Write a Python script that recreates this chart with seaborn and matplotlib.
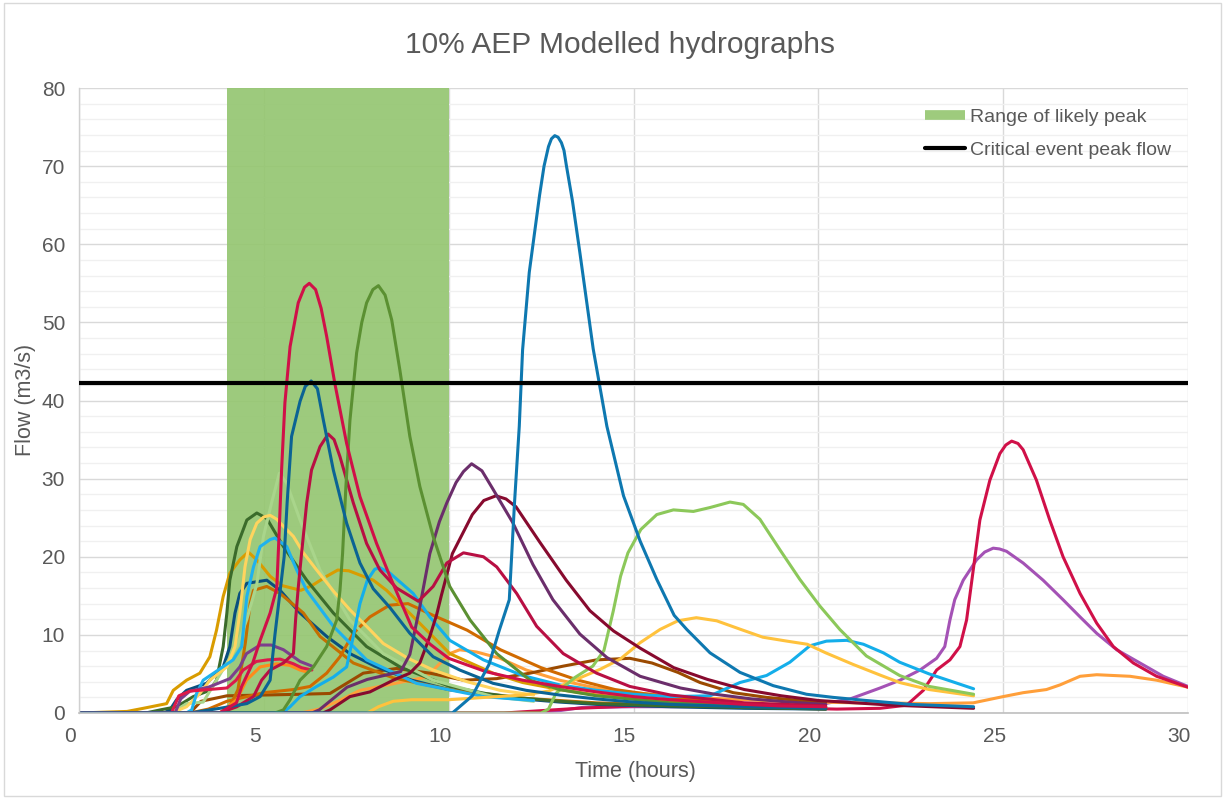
import numpy as np
import pandas as pd
import matplotlib
matplotlib.use("Agg")
import matplotlib.pyplot as plt
import seaborn as sns
from matplotlib.lines import Line2D
from matplotlib.ticker import MultipleLocator
from matplotlib.transforms import ScaledTranslation
from matplotlib.patches import Rectangle

# ---------------- data ----------------
title = "10% AEP Modelled hydrographs"
x_label = "Time (hours)"
y_label = "Flow (m3/s)"
legend_labels = ["Range of likely peak", "Critical event peak flow"]
likely_peak_range = [4.0, 10.0]
critical_peak_flow = 42.3

x_ticks = [0, 5, 10, 15, 20, 25, 30]
y_ticks = [0, 10, 20, 30, 40, 50, 60, 70, 80]

violet_t = [0, 12.3, 13.0, 13.6, 15, 17, 19, 19.95, 20.86, 21.67, 22.21, 22.75, 23.2, 23.42, 23.56, 23.69, 23.92, 24.28, 24.5, 24.73, 24.9, 25.09, 25.54, 26.08, 26.62, 27.08, 27.53, 28.07, 28.7, 29.33, 30]
violet_q = [0, 0, 0.3, 0.7, 0.8, 0.8, 0.8, 1.0, 1.8, 3.2, 4.2, 5.5, 7.0, 8.5, 11.9, 14.5, 17.0, 19.6, 20.6, 21.1, 21.0, 20.7, 19.2, 17.0, 14.5, 12.3, 10.2, 8.1, 6.4, 4.7, 3.4]

orange_long_t = [0, 6.0, 6.5, 7.0, 7.6, 8.14, 8.77, 9.4, 9.67, 10.03, 10.3, 10.76, 11.39, 12.1, 13, 14, 15, 16, 17, 18, 19, 20, 21, 21.67, 23.02, 24.19, 25.0, 25.54, 26.17, 26.54, 27.08, 27.53, 28.43, 29.15, 30]
orange_long_q = [0, 0, 0.5, 1.5, 2.9, 3.4, 4.0, 4.6, 5.9, 7.6, 8.1, 7.8, 7.0, 5.5, 4.2, 3.2, 2.6, 2.2, 1.9, 1.7, 1.5, 1.4, 1.3, 1.3, 1.2, 1.3, 2.1, 2.6, 3.0, 3.6, 4.7, 4.9, 4.7, 4.2, 3.3]

crimson25_t = [0, 11.5, 12.5, 13.5, 15, 16.5, 18, 19.5, 20.5, 21.67, 22.39, 22.84, 23.2, 23.56, 23.83, 24.01, 24.19, 24.37, 24.64, 24.91, 25.07, 25.23, 25.4, 25.54, 25.9, 26.26, 26.62, 27.08, 27.53, 27.98, 28.52, 29.15, 30]
crimson25_q = [0, 0, 0.3, 0.6, 0.9, 1.0, 0.8, 0.6, 0.5, 0.6, 1.0, 2.9, 5.5, 6.8, 8.5, 11.9, 18.3, 24.7, 29.8, 33.2, 34.3, 34.8, 34.5, 33.7, 29.8, 24.7, 20.0, 15.3, 11.5, 8.5, 6.4, 4.7, 3.3]

brown_t = [0, 3.0, 3.3, 4.0, 5.0, 6.0, 6.79, 7.69, 8.59, 9.49, 10.4, 11.3, 12.2, 13.1, 14.0, 14.9, 15.5, 16.2, 16.8, 17.7, 18.6, 19.5, 20.2]
brown_q = [0, 0, 1.5, 2.2, 2.3, 2.4, 2.5, 5.1, 5.7, 5.1, 4.2, 4.4, 5.1, 6.0, 6.8, 7.0, 6.4, 5.2, 3.9, 2.6, 2.0, 1.6, 1.4]

navy_t = [0, 2.3, 2.46, 2.64, 2.91, 3.45, 3.9, 4.08, 4.22, 4.35, 4.54, 4.81, 5.08, 5.44, 5.98, 6.7, 7.33, 8, 9, 10, 11, 12, 13, 14, 16, 18, 20.2]
navy_q = [0, 0, 0.4, 1.7, 2.9, 3.8, 5.9, 8.5, 12.8, 15.3, 16.6, 16.8, 17.0, 15.7, 12.8, 9.8, 7.6, 6.0, 4.2, 3.0, 2.3, 1.8, 1.4, 1.1, 0.8, 0.6, 0.5]

dkorange_a_t = [0, 4.0, 4.3, 4.5, 4.63, 4.72, 5.08, 5.44, 6.07, 6.52, 7.42, 8.5, 10, 12, 14, 16, 18, 20.2]
dkorange_a_q = [0, 0, 3.0, 9.0, 14.0, 15.7, 16.2, 15.3, 12.8, 9.8, 6.4, 4.5, 3.0, 1.9, 1.3, 1.0, 0.8, 0.6]

dkorange_b_t = [0, 3.0, 3.5, 4.0, 5.0, 5.8, 6.25, 6.7, 7.06, 7.42, 7.87, 8.4, 8.9, 9.58, 10.5, 11.4, 12.5, 13.5, 14.5, 16, 18, 20.2]
dkorange_b_q = [0, 0, 0.5, 1.5, 2.6, 3.0, 3.4, 5.1, 7.2, 10.2, 12.3, 13.8, 14.0, 12.5, 10.6, 8.1, 5.8, 4.2, 3.0, 2.0, 1.2, 0.8]

gold_t = [0, 1.3, 1.74, 2.37, 2.55, 2.91, 3.27, 3.54, 3.72, 3.9, 4.08, 4.35, 4.58, 4.81, 5.17, 5.5, 6.0, 6.3, 6.7, 7.0, 7.3, 7.96, 8.32, 9.13, 10.03, 11.2, 12, 13, 14, 16, 18, 20.2]
gold_q = [0, 0.2, 0.6, 1.2, 2.9, 4.2, 5.1, 7.2, 10.6, 14.9, 17.9, 19.6, 20.6, 19.6, 17.5, 16.3, 15.7, 16.3, 17.5, 18.3, 18.2, 17.0, 15.7, 11.9, 7.6, 5.1, 3.9, 3.0, 2.3, 1.5, 1.0, 0.7]

dkgreen_t = [0, 1.8, 2.2, 2.64, 3.09, 3.54, 3.72, 3.9, 4.0, 4.08, 4.27, 4.54, 4.81, 5.08, 5.53, 6.16, 6.88, 7.78, 8.68, 10.03, 11, 12, 13, 14, 16, 18, 20.2]
dkgreen_q = [0, 0, 0.4, 0.8, 2.1, 2.9, 4.2, 8.5, 12.8, 17.0, 21.3, 24.7, 25.6, 24.9, 21.3, 17.0, 12.8, 8.5, 5.9, 3.4, 2.5, 1.9, 1.5, 1.2, 0.9, 0.7, 0.5]

palegreen_t = [0, 2.5, 2.91, 3.36, 3.72, 4.27, 4.54, 4.81, 4.99, 5.21, 5.42, 5.62, 5.98, 6.52, 7.33, 8.23, 9.58, 11.2, 12.3]
palegreen_q = [0, 0, 1.2, 1.4, 4.2, 8.5, 12.0, 16.5, 22.6, 26.9, 30.7, 29.4, 24.7, 18.3, 11.9, 7.6, 4.2, 2.1, 1.5]

yellow_t = [0, 2.5, 2.91, 3.27, 3.54, 4.0, 4.22, 4.35, 4.49, 4.63, 4.81, 5.0, 5.17, 5.35, 5.53, 5.8, 6.07, 6.43, 6.9, 7.33, 7.8, 8.23, 8.9, 9.58, 10.5, 11.39, 12.3]
yellow_q = [0, 0, 0.8, 2.5, 4.2, 5.9, 8.5, 12.8, 18.7, 22.2, 24.3, 25.1, 25.3, 24.8, 23.9, 22.6, 20.5, 18.3, 15.5, 13.2, 11.0, 8.9, 7.0, 5.5, 4.0, 2.9, 2.3]

sky1_t = [0, 2.9, 3.05, 3.18, 3.36, 4.17, 4.4, 4.54, 4.72, 4.9, 5.17, 5.3, 5.62, 5.89, 6.16, 6.88, 7.78, 9.13, 10.94, 12.3]
sky1_q = [0, 0, 0.4, 2.5, 4.2, 6.8, 8.5, 14.9, 18.7, 21.3, 22.2, 22.4, 21.3, 18.3, 15.7, 11.1, 6.8, 3.8, 2.1, 1.6]

sky2_t = [0, 5.5, 5.71, 5.98, 6.43, 6.88, 7.24, 7.42, 7.6, 7.8, 8.0, 8.14, 8.41, 9.04, 9.49, 10.03, 10.94, 12, 13, 14, 15, 16, 17.07, 17.88, 18.6, 19.23, 19.77, 20.22, 20.77, 21.22, 21.76, 22.2, 23, 24.2]
sky2_q = [0, 0, 0.8, 2.1, 3.4, 4.6, 5.9, 9.8, 14.0, 17.0, 18.4, 18.6, 17.9, 15.3, 12.3, 9.3, 6.8, 4.8, 3.6, 2.9, 2.4, 2.1, 2.2, 3.9, 4.8, 6.5, 8.6, 9.2, 9.3, 8.8, 7.7, 6.5, 5.0, 3.1]

purple_short_t = [0, 2.6, 2.75, 3.0, 3.5, 4.08, 4.35, 4.53, 4.9, 5.2, 5.53, 5.98, 6.3]
purple_short_q = [0, 0, 1.8, 2.8, 3.3, 4.4, 5.9, 7.6, 8.7, 8.7, 8.1, 6.6, 6.0]

orange_short_t = [0, 3.8, 4.27, 4.53, 4.9, 5.35, 5.7, 5.98, 6.2]
orange_short_q = [0, 0, 1.7, 4.2, 5.9, 6.3, 6.1, 5.5, 5.2]

crimson_short_t = [0, 2.5, 2.7, 3.0, 3.5, 4.0, 4.25, 4.44, 4.8, 5.1, 5.44, 5.8, 6.02, 6.3]
crimson_short_q = [0, 0, 2.2, 2.8, 3.0, 3.2, 4.2, 5.5, 6.6, 6.8, 6.9, 6.3, 5.8, 5.5]

yelloworange_t = [0, 7.8, 8.1, 8.5, 9.0, 10, 11, 12, 12.7, 13.4, 14.1, 14.64, 15.18, 15.72, 16.2, 16.7, 17.25, 17.9, 18.5, 19.15, 19.7, 20.2, 20.95, 21.7, 22.2, 23, 24.2]
yelloworange_q = [0, 0, 0.8, 1.5, 1.7, 1.7, 2.0, 2.3, 2.8, 4.2, 5.6, 6.9, 9.0, 10.7, 11.8, 12.2, 11.8, 10.7, 9.7, 9.2, 8.8, 7.7, 6.2, 4.8, 3.9, 3.0, 2.2]

ltgreen_t = [0, 12.5, 12.7, 12.9, 13.4, 13.9, 14.2, 14.45, 14.65, 14.85, 15.2, 15.63, 16.08, 16.62, 17.07, 17.61, 17.97, 18.42, 18.96, 19.5, 20.04, 20.58, 21.3, 22.2, 23.0, 24.2]
ltgreen_q = [0, 0, 0.5, 2.5, 4.5, 6.0, 8.0, 13.0, 17.5, 20.5, 23.5, 25.4, 26.0, 25.8, 26.3, 27.0, 26.7, 24.8, 20.9, 17.1, 13.7, 10.7, 7.3, 4.8, 3.4, 2.4]

maroon_t = [0, 6.6, 6.79, 7.33, 7.87, 8.5, 8.95, 9.22, 9.49, 9.67, 9.8, 10.1, 10.64, 10.95, 11.28, 11.55, 11.82, 12.46, 13.18, 13.82, 14.46, 15.18, 16.09, 17, 18, 19, 20, 22, 24.2]
maroon_q = [0, 0, 0.4, 2.1, 2.7, 4.2, 5.1, 6.4, 9.8, 12.5, 15.0, 20.4, 25.4, 27.2, 27.8, 27.4, 26.4, 21.9, 17.0, 13.1, 10.5, 8.3, 5.8, 4.3, 3.0, 2.2, 1.6, 1.0, 0.6]

purple_t = [0, 6.3, 6.5, 7.25, 7.8, 8.7, 8.95, 9.22, 9.49, 9.75, 9.95, 10.2, 10.4, 10.62, 10.9, 11.18, 11.73, 12.28, 12.82, 13.55, 14.28, 15.18, 16.27, 17.2, 18.2, 19.2, 20.2]
purple_q = [0, 0, 0.4, 3.3, 4.3, 5.3, 7.5, 13.6, 20.4, 24.5, 26.9, 29.5, 30.9, 31.9, 31.0, 28.8, 24.4, 19.0, 14.5, 10.1, 7.1, 4.7, 3.2, 2.4, 1.8, 1.4, 1.1]

crimson35_t = [0, 3.8, 4.27, 4.72, 4.94, 5.17, 5.53, 5.8, 5.86, 5.93, 6.02, 6.16, 6.29, 6.52, 6.74, 6.9, 7.06, 7.42, 7.78, 8.14, 8.59, 9.18, 9.58, 9.95, 10.4, 10.94, 11.3, 11.84, 12.38, 13.1, 14.0, 14.9, 16, 18, 20.2]
crimson35_q = [0, 0, 0.8, 2.1, 4.2, 5.5, 6.4, 7.6, 12.0, 16.0, 20.4, 26.9, 31.1, 34.1, 35.7, 35.0, 32.8, 26.9, 21.7, 18.3, 16.0, 14.3, 16.2, 19.2, 20.5, 20.0, 18.7, 15.3, 11.1, 7.6, 5.1, 3.4, 2.3, 1.3, 0.9]

olive_t = [0, 5.3, 5.53, 5.71, 5.98, 6.34, 6.7, 6.97, 7.06, 7.13, 7.22, 7.33, 7.51, 7.65, 7.78, 7.95, 8.10, 8.28, 8.46, 8.68, 8.95, 9.22, 9.58, 10.03, 10.58, 11.3, 12.2, 13, 14, 16, 18, 20.2]
olive_q = [0, 0, 0.4, 1.7, 4.2, 5.9, 8.5, 11.9, 15.7, 20.4, 29.0, 37.5, 46.1, 50.0, 52.5, 54.2, 54.7, 53.5, 50.3, 43.9, 35.4, 29.0, 22.6, 16.2, 11.9, 7.6, 4.2, 3.0, 2.2, 1.3, 0.9, 0.7]

blue42_t = [0, 3.0, 3.81, 4.54, 4.9, 5.17, 5.3, 5.45, 5.55, 5.63, 5.75, 5.98, 6.12, 6.28, 6.45, 6.61, 6.88, 7.24, 7.6, 7.96, 8.41, 8.95, 9.58, 10.3, 11.2, 12.1, 13, 14, 15, 16, 18, 20.2]
blue42_q = [0, 0, 0.6, 1.2, 2.1, 4.2, 10.0, 16.0, 20.0, 26.9, 35.4, 39.9, 41.8, 42.5, 41.5, 37.5, 31.1, 24.3, 19.2, 15.9, 13.5, 10.2, 7.2, 5.5, 3.8, 2.9, 2.3, 1.8, 1.4, 1.1, 0.8, 0.6]

crimson55_t = [0, 3.8, 4.26, 4.4, 4.7, 4.9, 5.17, 5.35, 5.41, 5.48, 5.57, 5.71, 5.93, 6.1, 6.23, 6.4, 6.55, 6.7, 6.92, 7.24, 7.6, 8.05, 8.41, 9.0, 9.5, 10, 11, 12, 13, 14, 15, 16, 17, 18, 19, 20.2]
crimson55_q = [0, 0, 1.3, 3.4, 6.4, 9.3, 12.8, 16.0, 22.6, 31.1, 39.7, 46.9, 52.5, 54.5, 55.0, 54.2, 51.8, 48.2, 42.2, 34.5, 27.7, 21.7, 17.5, 11.0, 8.8, 7.0, 5.3, 4.2, 3.4, 2.7, 2.1, 1.7, 1.4, 1.1, 0.9, 0.8]

blue73_t = [0, 10.1, 10.64, 11.09, 11.37, 11.64, 11.78, 11.91, 12.0, 12.18, 12.46, 12.58, 12.7, 12.78, 12.87, 12.96, 13.05, 13.12, 13.18, 13.35, 13.55, 13.91, 14.28, 14.73, 15.18, 15.63, 16.1, 16.44, 17.07, 17.88, 18.78, 19.68, 20.4, 21.3, 22.5, 24.2]
blue73_q = [0, 0, 2.2, 6.2, 10.6, 14.5, 26.8, 36.7, 46.5, 56.4, 66.3, 70.0, 72.5, 73.5, 73.9, 73.7, 73.0, 72.0, 70.2, 65.5, 58.9, 46.6, 36.7, 27.8, 22.0, 17.1, 12.5, 10.7, 7.7, 5.2, 3.5, 2.4, 2.0, 1.6, 1.1, 0.8]

series = [
    ("violet", violet_t, violet_q, "#a452b5"),
    ("orange_long", orange_long_t, orange_long_q, "#ff9f3a"),
    ("crimson25", crimson25_t, crimson25_q, "#d01048"),
    ("brown", brown_t, brown_q, "#9b4a00"),
    ("navy", navy_t, navy_q, "#0a4f7e"),
    ("dkorange_a", dkorange_a_t, dkorange_a_q, "#c46f00"),
    ("dkorange_b", dkorange_b_t, dkorange_b_q, "#d06a00"),
    ("gold", gold_t, gold_q, "#d99c00"),
    ("dkgreen", dkgreen_t, dkgreen_q, "#3b6b2b"),
    ("palegreen", palegreen_t, palegreen_q, "#a9d58b"),
    ("yellow", yellow_t, yellow_q, "#ffd45e"),
    ("sky1", sky1_t, sky1_q, "#1fb2ee"),
    ("sky2", sky2_t, sky2_q, "#14aeea"),
    ("purple_short", purple_short_t, purple_short_q, "#7c3f8c"),
    ("orange_short", orange_short_t, orange_short_q, "#ff8a1a"),
    ("crimson_short", crimson_short_t, crimson_short_q, "#dc1a4a"),
    ("yelloworange", yelloworange_t, yelloworange_q, "#ffc23d"),
    ("ltgreen", ltgreen_t, ltgreen_q, "#8cc85a"),
    ("maroon", maroon_t, maroon_q, "#870a2e"),
    ("purple", purple_t, purple_q, "#6b2e6b"),
    ("crimson35", crimson35_t, crimson35_q, "#b80f43"),
    ("olive", olive_t, olive_q, "#5b9032"),
    ("blue42", blue42_t, blue42_q, "#0b6394"),
    ("crimson55", crimson55_t, crimson55_q, "#d01048"),
    ("blue73", blue73_t, blue73_q, "#0e78b0"),
]

frames = []
for name, t, q, _ in series:
    frames.append(pd.DataFrame({"series": name, "t": t, "q": q}))
df = pd.concat(frames, ignore_index=True)
palette = {name: c for name, _, _, c in series}
order = [name for name, _, _, _ in series]

# ---------------- figure ----------------
sns.set_theme(style="white")
plt.rcParams["font.family"] = ["Liberation Sans", "DejaVu Sans"]

W, H = 1225, 799
fig = plt.figure(figsize=(W / 100, H / 100), dpi=100)
fig.patch.set_facecolor("white")
ax = fig.add_axes([79 / W, 1 - 713 / H, (1188 - 79) / W, (713 - 88) / H])

ax.set_xlim(0, 30)
ax.set_ylim(0, 80)
ax.set_xticks(x_ticks)
ax.set_yticks(y_ticks)
ax.yaxis.set_minor_locator(MultipleLocator(2))
ax.set_axisbelow(True)
ax.grid(which="major", axis="both", color="#d9d9d9", linewidth=1.0)
ax.grid(which="minor", axis="y", color="#f0f0f0", linewidth=1.0)

ax.axvspan(likely_peak_range[0], likely_peak_range[1], color="#93c56f", alpha=0.9, lw=0, zorder=0.7)

sns.lineplot(data=df, x="t", y="q", hue="series", hue_order=order, palette=palette,
             sort=False, estimator=None, legend=False, linewidth=2.2,
             solid_joinstyle="round", solid_capstyle="round", ax=ax)

ax.axhline(critical_peak_flow, color="black", linewidth=3.0, zorder=5)

for s in ["top", "right"]:
    ax.spines[s].set_visible(False)
ax.spines["left"].set_color("#d0d0d0")
ax.spines["bottom"].set_color("#bfbfbf")
ax.spines["left"].set_linewidth(1.0)
ax.spines["bottom"].set_linewidth(1.2)

ax.tick_params(axis="both", which="both", length=0, labelsize=15, labelcolor="#595959")
ax.tick_params(axis="x", pad=10)
ax.tick_params(axis="y", pad=10)
off = ScaledTranslation(-9 / 100, 0, fig.dpi_scale_trans)
for lbl in ax.get_xticklabels():
    lbl.set_transform(lbl.get_transform() + off)

ax.set_xlabel(x_label, fontsize=15.5, color="#595959")
ax.set_ylabel(y_label, fontsize=15.5, color="#595959")
ax.xaxis.set_label_coords((635 - 79) / (1188 - 79), -(761 - 713) / (713 - 88))
ax.yaxis.set_label_coords(-(79 - 36) / (1188 - 79), (713 - 400) / (713 - 88))

fig.text(620 / W, 1 - 45 / H, title, ha="center", va="center", fontsize=21.5, color="#595959")

handles = [Line2D([0], [0], color="#9ecb7d", lw=7, solid_capstyle="butt"),
           Line2D([0], [0], color="black", lw=3, solid_capstyle="round")]
fig.legend(handles, legend_labels, loc="upper left", bbox_to_anchor=(925 / W, 1 - 108 / H),
           frameon=False, fontsize=14, handlelength=2.05, handletextpad=0.25,
           labelspacing=0.8, labelcolor="#595959", borderaxespad=0, borderpad=0)

fig.patches.append(Rectangle((4 / W, 3 / H), 1 - 8 / W, 1 - 6 / H, transform=fig.transFigure,
                             fill=False, edgecolor="#d9d9d9", linewidth=1.0))

fig.savefig("out.png", dpi=100)
